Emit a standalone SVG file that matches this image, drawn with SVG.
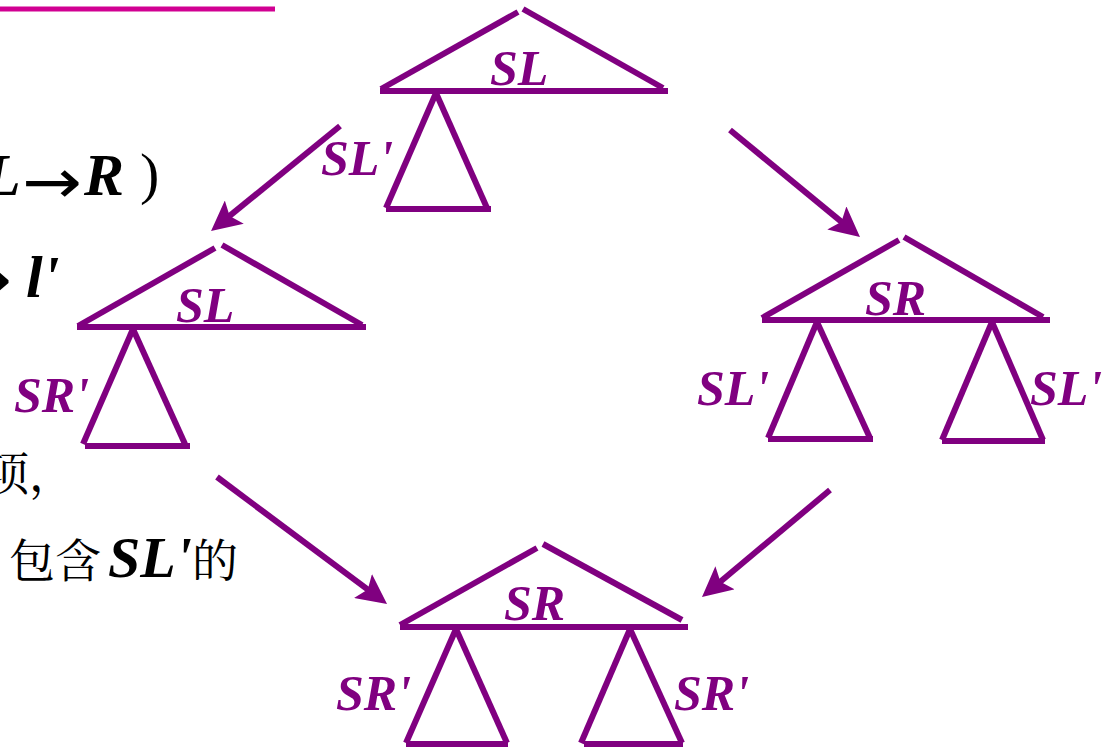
<svg xmlns="http://www.w3.org/2000/svg" width="1117" height="747" viewBox="0 0 1117 747">
<style>
.t{fill:none;stroke:#800080;stroke-width:6;stroke-linecap:butt}
.lab{font-weight:bold;font-style:italic;font-size:50px;fill:#800080}
.blk{fill:#000}
.arr{stroke:#800080;stroke-width:6;fill:none;marker-end:url(#ah)}
</style>
<defs>
<marker id="ah" viewBox="0 0 10 10" markerWidth="5" markerHeight="5" refX="4" refY="5" orient="auto" markerUnits="strokeWidth">
<path d="M0,0 L10,5 L0,10 L2,5 z" fill="#800080"/>
</marker>
</defs>
<rect width="1117" height="747" fill="#fff"/>
<line x1="0" y1="9" x2="275" y2="9" stroke="#D10092" stroke-width="5"/>

<g id="side-text">
<text class="blk" font-family="Liberation Serif, serif" font-weight="bold" font-style="italic" font-size="60" x="-16" y="195">L</text>
<text class="blk" font-family="DejaVu Sans, sans-serif" font-size="62" x="22" y="203" textLength="60" lengthAdjust="spacingAndGlyphs">→</text>
<text class="blk" font-family="Liberation Serif, serif" font-weight="bold" font-style="italic" font-size="60" x="84" y="195">R</text>
<text class="blk" font-family="Liberation Serif, serif" font-size="58" x="140" y="193">)</text>
<text class="blk" font-family="DejaVu Sans, sans-serif" font-size="62" x="-48" y="301" textLength="60" lengthAdjust="spacingAndGlyphs">→</text>
<text class="blk" font-family="Liberation Serif, serif" font-weight="bold" font-style="italic" font-size="60" x="26" y="297">l'</text>
<text class="blk" font-family="Noto Serif CJK SC, Noto Sans CJK SC, serif" font-size="46" x="-17" y="490">项，</text>
<text class="blk" font-family="Noto Serif CJK SC, Noto Sans CJK SC, serif" font-size="46" x="9" y="577">包含</text>
<text class="blk" font-family="Liberation Serif, serif" font-weight="bold" font-style="italic" font-size="58" x="108" y="577">SL'</text>
<text class="blk" font-family="Noto Serif CJK SC, Noto Sans CJK SC, serif" font-size="46" x="192" y="577">的</text>
</g>

<g id="tree-top">
<line class="t" x1="381" y1="89" x2="518" y2="12"/>
<line class="t" x1="523" y1="9" x2="663" y2="88"/>
<line class="t" x1="380" y1="91" x2="668" y2="91"/>
<line class="t" x1="436" y1="93" x2="386" y2="208"/>
<line class="t" x1="436" y1="93" x2="487" y2="208"/>
<line class="t" x1="386" y1="209" x2="491" y2="209"/>
<text class="lab" font-family="Liberation Serif, serif" x="490" y="85">SL</text>
<text class="lab" font-family="Liberation Serif, serif" x="321" y="175">SL'</text>
</g>

<g id="tree-left">
<line class="t" x1="78" y1="326" x2="215" y2="248"/>
<line class="t" x1="222" y1="245" x2="362" y2="325"/>
<line class="t" x1="77" y1="327" x2="366" y2="327"/>
<line class="t" x1="133" y1="329" x2="83" y2="444"/>
<line class="t" x1="133" y1="329" x2="185" y2="444"/>
<line class="t" x1="85" y1="446" x2="190" y2="446"/>
<text class="lab" font-family="Liberation Serif, serif" x="176" y="322">SL</text>
<text class="lab" font-family="Liberation Serif, serif" x="14" y="412">SR'</text>
</g>

<g id="tree-right">
<line class="t" x1="762" y1="318" x2="899" y2="240"/>
<line class="t" x1="904" y1="237" x2="1043" y2="317"/>
<line class="t" x1="762" y1="320" x2="1050" y2="320"/>
<line class="t" x1="817" y1="322" x2="768" y2="438"/>
<line class="t" x1="817" y1="322" x2="870" y2="438"/>
<line class="t" x1="768" y1="439" x2="873" y2="439"/>
<line class="t" x1="992" y1="322" x2="942" y2="440"/>
<line class="t" x1="992" y1="322" x2="1043" y2="440"/>
<line class="t" x1="942" y1="441" x2="1045" y2="441"/>
<text class="lab" font-family="Liberation Serif, serif" x="865" y="315">SR</text>
<text class="lab" font-family="Liberation Serif, serif" x="697" y="405">SL'</text>
<text class="lab" font-family="Liberation Serif, serif" x="1030" y="405">SL'</text>
</g>

<g id="tree-bottom">
<line class="t" x1="400" y1="625" x2="537" y2="548"/>
<line class="t" x1="543" y1="544" x2="682" y2="620"/>
<line class="t" x1="400" y1="627" x2="688" y2="627"/>
<line class="t" x1="456" y1="629" x2="406" y2="743"/>
<line class="t" x1="456" y1="629" x2="507" y2="743"/>
<line class="t" x1="406" y1="744" x2="508" y2="744"/>
<line class="t" x1="630" y1="629" x2="581" y2="743"/>
<line class="t" x1="630" y1="629" x2="682" y2="743"/>
<line class="t" x1="584" y1="744" x2="683" y2="744"/>
<text class="lab" font-family="Liberation Serif, serif" x="504" y="620">SR</text>
<text class="lab" font-family="Liberation Serif, serif" x="336" y="710">SR'</text>
<text class="lab" font-family="Liberation Serif, serif" x="674" y="710">SR'</text>
</g>

<g id="connectors">
<line class="arr" x1="340" y1="126" x2="225" y2="219.7"/>
<line class="arr" x1="730" y1="130" x2="846.1" y2="225.6"/>
<line class="arr" x1="217" y1="477" x2="372.6" y2="593.2"/>
<line class="arr" x1="830" y1="490" x2="715.8" y2="585.5"/>
</g>
</svg>
